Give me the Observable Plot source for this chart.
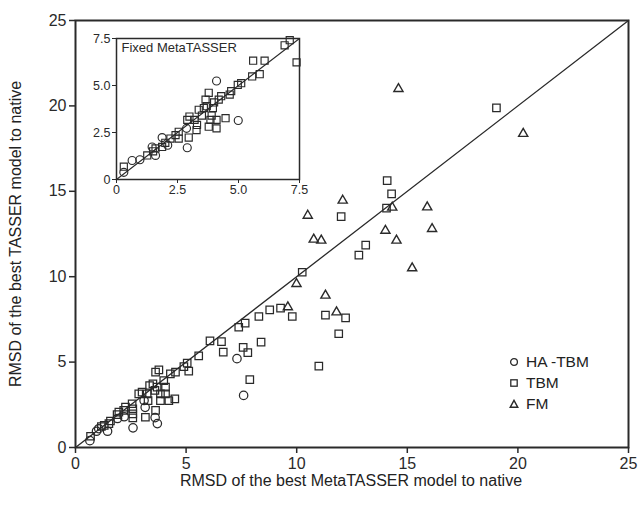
<!DOCTYPE html>
<html>
<head>
<meta charset="utf-8">
<script src="https://cdn.jsdelivr.net/npm/d3@7"></script>
<script src="https://cdn.jsdelivr.net/npm/@observablehq/plot@0.6"></script>
<style>
  html, body { margin: 0; padding: 0; background: #fff; }
  #wrap { position: relative; width: 643px; height: 515px; font-family: "Liberation Sans", Arial, sans-serif; color: #222; }
  #wrap > div.abs { position: absolute; }
  .lbl { position: absolute; font-size: 16px; color: #222; white-space: nowrap; }
  .leg { position: absolute; font-size: 15.5px; color: #222; display: flex; align-items: center; }
  .leg svg { margin-right: 7px; }
</style>
</head>
<body>
<div id="wrap"></div>
<script>
// ---- Data ----
const seriesNames = ["HA -TBM", "TBM", "FM"];
const mainTicks = [0, 5, 10, 15, 20, 25];
const insetTicks = [0, 2.5, 5, 7.5];

const mainHA = [[0.65,0.4],[0.95,0.95],[1.05,1.1],[1.45,0.95],[1.9,1.7],[2.2,1.8],[2.6,1.15],[3.1,2.75],[3.15,2.35],[3.6,1.75],[3.7,1.4],[7.3,5.2],[7.6,3.05]];
const mainTBM = [[0.68,0.66],[1.17,1.23],[1.3,1.3],[1.51,1.4],[1.58,1.55],[1.88,1.93],[1.96,2.07],[2.18,2.17],[2.26,2.36],[2.56,2.56],[2.59,2.27],[2.59,1.97],[2.59,1.74],[2.86,3.14],[3.01,3.24],[3.24,3.14],[3.28,2.75],[3.16,1.77],[3.62,2.17],[3.35,3.63],[3.5,3.73],[3.59,3.34],[3.62,4.41],[3.77,4.55],[3.69,3.53],[3.84,3.14],[3.84,2.75],[4.07,3.14],[3.99,3.92],[4.07,3.53],[4.22,2.75],[4.49,2.85],[4.29,4.31],[4.52,4.41],[4.9,4.74],[5.05,4.94],[5.12,4.47],[5.57,5.37],[6.08,6.24],[6.6,6.2],[6.68,5.58],[7.38,7.04],[7.67,7.28],[7.58,5.86],[7.79,5.56],[7.88,3.97],[8.29,7.67],[8.39,6.17],[8.78,8.06],[9.27,8.16],[9.8,7.67],[10.25,10.26],[11.0,4.76],[11.3,7.75],[11.9,6.66],[12.21,7.59],[12.01,13.52],[12.81,11.26],[13.12,11.85],[14.06,14.01],[14.09,15.63],[14.29,14.85],[19.03,19.89]];
const mainFM = [[9.6,8.22],[9.99,9.58],[10.5,13.58],[10.77,12.18],[11.11,12.12],[11.3,8.9],[11.8,7.92],[12.08,14.46],[14.01,12.7],[14.32,14.05],[14.51,12.12],[15.22,10.5],[15.9,14.07],[16.12,12.8],[14.6,21.0],[20.24,18.37]];

const insetHA = [[0.3,0.38],[0.64,1.01],[0.96,1.05],[1.46,1.73],[1.6,1.28],[1.87,2.23],[2.1,1.82],[2.87,2.72],[2.9,1.69],[4.1,5.24],[4.99,3.14]];
const insetTBM = [[0.3,0.68],[1.26,1.28],[1.5,1.5],[1.6,1.65],[1.87,1.73],[2.0,1.95],[2.21,2.18],[2.42,2.36],[2.55,2.18],[2.55,2.54],[2.9,3.17],[2.99,3.35],[2.96,2.23],[3.2,3.17],[3.28,2.63],[3.3,2.9],[3.37,3.71],[3.5,3.4],[3.58,3.8],[3.65,4.25],[3.78,4.61],[3.7,3.9],[3.78,2.81],[3.9,3.4],[3.85,3.17],[3.95,3.8],[4.1,3.17],[4.1,2.72],[4.0,4.1],[4.19,4.25],[4.29,4.43],[4.47,3.26],[4.64,4.52],[4.7,4.7],[4.97,5.03],[5.11,5.12],[5.56,5.48],[5.87,5.6],[5.6,6.32],[6.07,6.32],[6.89,7.14],[7.1,7.41],[7.38,6.23]];

const mainDomain = [0, 25];
const insetDomain = [0, 7.5];
const symbolsFor = ["circle", "square", "triangle"];

// ---- Build ----
const ink = "#2a2a2a";
const font = "'Liberation Sans', Arial, sans-serif";
function toRows(arr, s) { return arr.map(([x, y]) => ({x, y, s})); }

const mainRowsHT = [...toRows(mainHA, seriesNames[0]), ...toRows(mainTBM, seriesNames[1])];
const mainRowsFM = toRows(mainFM, seriesNames[2]);
const insetRows = [...toRows(insetHA, seriesNames[0]), ...toRows(insetTBM, seriesNames[1])];

const wrap = document.getElementById("wrap");

const main = Plot.plot({
  width: 643, height: 515,
  marginLeft: 75, marginRight: 15, marginTop: 20, marginBottom: 68,
  style: {fontFamily: font, fontSize: "16px", color: ink, background: "transparent"},
  x: {domain: mainDomain, label: null},
  y: {domain: mainDomain, label: null},
  symbol: {domain: seriesNames, range: symbolsFor},
  marks: [
    Plot.line(mainDomain, {x: d => d, y: d => d, stroke: ink, strokeWidth: 1.3}),
    Plot.dot(mainRowsHT, {x: "x", y: "y", symbol: "s", r: 4.2, stroke: ink, strokeWidth: 1.25, fill: "white", fillOpacity: 0}),
    Plot.dot(mainRowsFM, {x: "x", y: "y", symbol: "s", r: 3.4, stroke: ink, strokeWidth: 1.4, fill: "white", fillOpacity: 0}),
    Plot.axisX({ticks: mainTicks, tickSize: 6, tickPadding: 4, tickFormat: d3.format("d"), label: null, stroke: ink, strokeWidth: 1.5}),
    Plot.axisY({ticks: mainTicks, tickSize: 6, tickPadding: 3, tickFormat: d3.format("d"), label: null, stroke: ink, strokeWidth: 1.5}),
    Plot.frame({stroke: ink, strokeWidth: 2})
  ]
});
const mainDiv = document.createElement("div");
mainDiv.className = "abs"; mainDiv.style.left = "0px"; mainDiv.style.top = "0px";
mainDiv.appendChild(main);
wrap.appendChild(mainDiv);

const inset = Plot.plot({
  width: 228, height: 176,
  marginLeft: 30, marginRight: 15, marginTop: 10, marginBottom: 25,
  style: {fontFamily: font, fontSize: "12.5px", color: ink, background: "transparent", overflow: "visible"},
  x: {domain: insetDomain, label: null},
  y: {domain: insetDomain, label: null},
  symbol: {domain: seriesNames, range: symbolsFor},
  marks: [
    Plot.line(insetDomain, {x: d => d, y: d => d, stroke: ink, strokeWidth: 1.1}),
    Plot.dot(insetRows, {x: "x", y: "y", symbol: "s", r: 4.0, stroke: ink, strokeWidth: 1.15, fill: "white", fillOpacity: 0}),
    Plot.axisX({ticks: insetTicks, tickSize: 4, tickPadding: 2, tickFormat: d => d === 0 ? "0" : d.toFixed(1), label: null, stroke: ink}),
    Plot.axisY({ticks: insetTicks, tickSize: 4, tickPadding: 2, tickFormat: d => d === 0 ? "0" : d.toFixed(1), label: null, stroke: ink}),
    Plot.text(["Fixed MetaTASSER"], {frameAnchor: "top-left", dx: 5, dy: 4, text: d => d, fontSize: 13, fill: ink, textAnchor: "start", lineAnchor: "top"}),
    Plot.frame({stroke: ink, strokeWidth: 1.5})
  ]
});
const insetDiv = document.createElement("div");
insetDiv.className = "abs"; insetDiv.style.left = "86px"; insetDiv.style.top = "28px";
insetDiv.appendChild(inset);
wrap.appendChild(insetDiv);

// Axis titles
const xl = document.createElement("div");
xl.className = "lbl"; xl.textContent = "RMSD of the best MetaTASSER model to native";
xl.style.left = "351px"; xl.style.top = "472px"; xl.style.transform = "translateX(-50%)";
wrap.appendChild(xl);
const yl = document.createElement("div");
yl.className = "lbl"; yl.textContent = "RMSD of the best TASSER model to native";
yl.style.left = "16px"; yl.style.top = "234px"; yl.style.transform = "translate(-50%, -50%) rotate(-90deg)";
wrap.appendChild(yl);

// Legend
const legendY = [362, 383, 404];
const shapes = {
  circle: '<circle cx="5" cy="5" r="3.4" fill="none" stroke="#2a2a2a" stroke-width="1.3"/>',
  square: '<rect x="1.8" y="1.8" width="6.4" height="6.4" fill="none" stroke="#2a2a2a" stroke-width="1.3"/>',
  triangle: '<path d="M5 1.3 L8.8 8.3 L1.2 8.3 Z" fill="none" stroke="#2a2a2a" stroke-width="1.4"/>'
};
seriesNames.forEach((name, i) => {
  const row = document.createElement("div");
  row.className = "leg";
  row.style.left = "509px"; row.style.top = (legendY[i] - 10) + "px"; row.style.height = "20px";
  row.innerHTML = '<svg width="10" height="10" viewBox="0 0 10 10">' + shapes[symbolsFor[i]] + '</svg><span>' + name + '</span>';
  wrap.appendChild(row);
});
</script>
</body>
</html>
